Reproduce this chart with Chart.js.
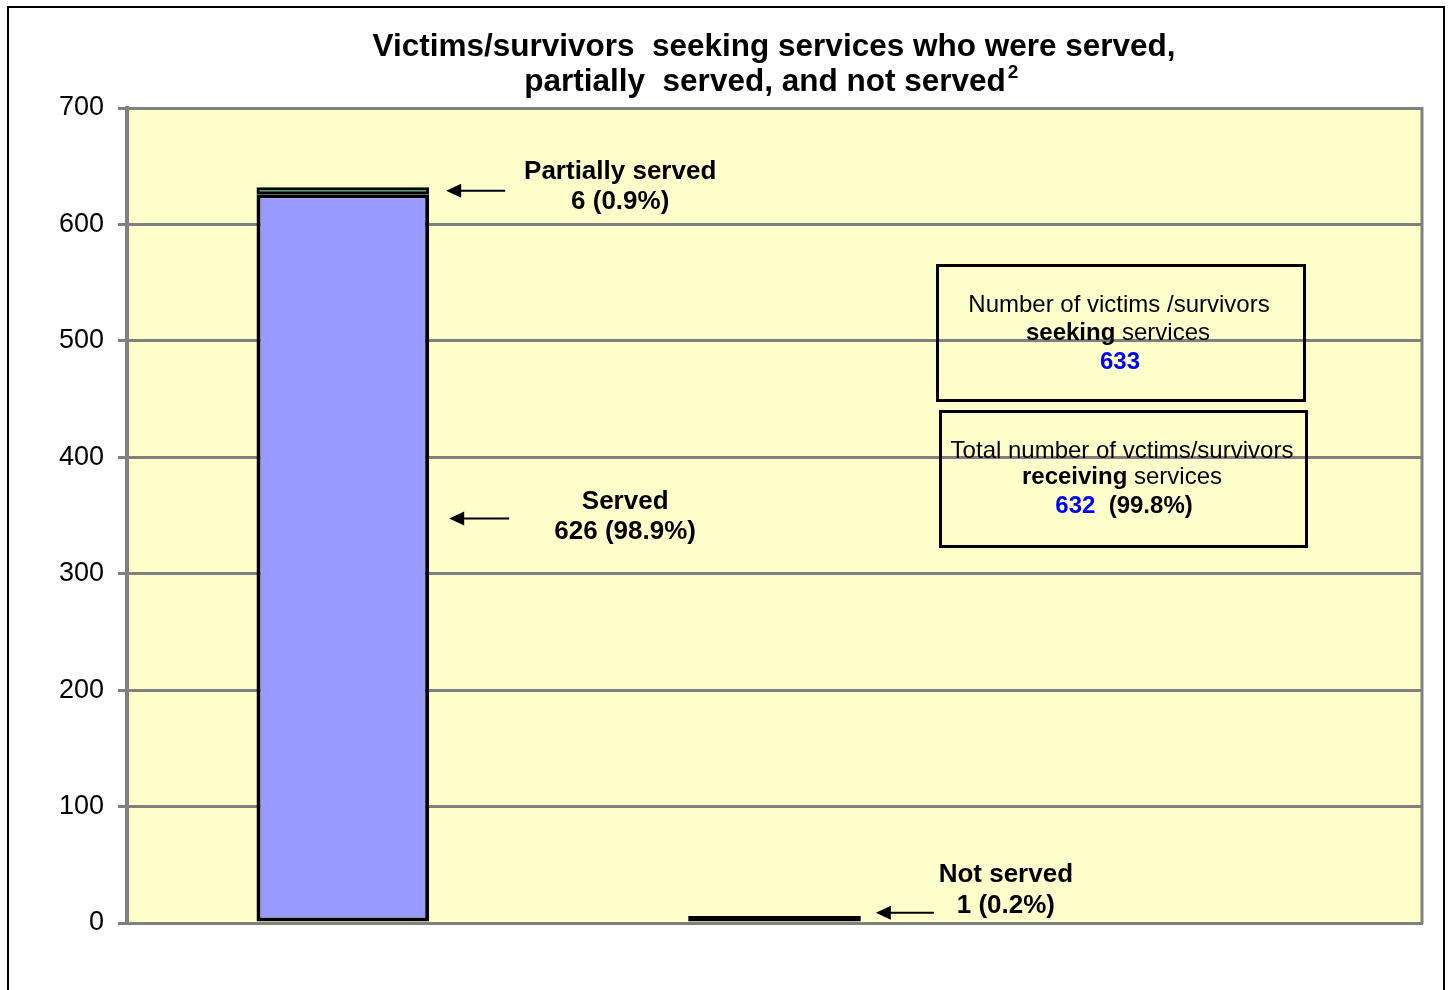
<!DOCTYPE html>
<html lang="en">
<head>
  <meta charset="UTF-8">
  <title>Victims/survivors seeking services</title>
  <script src="https://cdn.jsdelivr.net/npm/chart.js"></script>
  <style>
    html, body { margin: 0; padding: 0; background: #fff; }
    #wrap { position: relative; width: 1449px; height: 990px; }
  </style>
</head>
<body>
<div id="wrap">
  <canvas id="servedChart" width="1449" height="990"></canvas>
</div>
<script>
  // chart data
  const categories = ['', '', ''];
  const served = [626, null, null];
  const partiallyServed = [6, null, null];
  const notServed = [null, 1, null];
  const yTicks = [0, 100, 200, 300, 400, 500, 600, 700];

  const FONT = '"Liberation Sans", Arial, sans-serif';
  const total = [served, partiallyServed, notServed]
    .map(a => a.reduce((s, v) => s + (v || 0), 0))
    .reduce((s, v) => s + v, 0);
  const receiving = served[0] + partiallyServed[0];
  const pct = v => (v / total * 100).toFixed(1) + '%';

  function arrow(ctx, xTip, xTail, y) {
    ctx.save();
    ctx.strokeStyle = '#000';
    ctx.fillStyle = '#000';
    ctx.lineWidth = 2;
    ctx.beginPath();
    ctx.moveTo(xTail, y);
    ctx.lineTo(xTip + 10, y);
    ctx.stroke();
    ctx.beginPath();
    ctx.moveTo(xTip, y);
    ctx.lineTo(xTip + 15, y - 7);
    ctx.lineTo(xTip + 15, y + 7);
    ctx.closePath();
    ctx.fill();
    ctx.restore();
  }

  // draws a centred line made of [text, bold, colour] parts
  function mixedLine(ctx, parts, cx, y, size) {
    let widths = parts.map(p => {
      ctx.font = (p[1] ? 'bold ' : '') + size + 'px ' + FONT;
      return ctx.measureText(p[0]).width;
    });
    let w = widths.reduce((a, b) => a + b, 0);
    let x = cx - w / 2;
    ctx.textAlign = 'left';
    ctx.textBaseline = 'middle';
    parts.forEach((p, i) => {
      ctx.font = (p[1] ? 'bold ' : '') + size + 'px ' + FONT;
      ctx.fillStyle = p[2] || '#000';
      ctx.fillText(p[0], x, y);
      x += widths[i];
    });
  }

  const decor = {
    id: 'decor',
    beforeDraw(chart) {
      const { ctx, chartArea: a } = chart;
      ctx.save();
      ctx.fillStyle = '#fff';
      ctx.fillRect(0, 0, chart.width, chart.height);
      ctx.strokeStyle = '#000';
      ctx.lineWidth = 2;
      ctx.strokeRect(8, 7, 1436, 1000);
      ctx.fillStyle = '#FFFFCC';
      ctx.fillRect(a.left, a.top, a.right - a.left, a.bottom - a.top);
      ctx.restore();
    },
    afterDraw(chart) {
      const { ctx, chartArea: a, scales } = chart;
      const x = scales.x, y = scales.y;
      ctx.save();
      // right border of plot
      ctx.strokeStyle = '#808080';
      ctx.lineWidth = 3;
      ctx.beginPath();
      ctx.moveTo(a.right, a.top - 1);
      ctx.lineTo(a.right, a.bottom + 1);
      ctx.stroke();

      // title
      ctx.fillStyle = '#000';
      ctx.textAlign = 'center';
      ctx.textBaseline = 'middle';
      ctx.font = 'bold 31.5px ' + FONT;
      ctx.fillText('Victims/survivors  seeking services who were served,', 774, 47);
      const t2 = 'partially  served, and not served';
      const w2 = ctx.measureText(t2).width;
      ctx.fillText(t2, 765, 82);
      ctx.textAlign = 'left';
      ctx.font = 'bold 19px ' + FONT;
      ctx.fillText('2', 765 + w2 / 2 + 2, 73);

      // bar annotations
      const half = (x.getPixelForValue(1) - x.getPixelForValue(0)) * 0.2;
      const r0 = x.getPixelForValue(0) + half;
      const r1 = x.getPixelForValue(1) + half;
      ctx.textAlign = 'center';
      ctx.font = 'bold 26px ' + FONT;
      ctx.fillStyle = '#000';

      const yp = y.getPixelForValue(served[0] + partiallyServed[0] / 2);
      arrow(ctx, r0 + 17, r0 + 76, yp);
      ctx.fillText('Partially served', r0 + 191, yp - 19);
      ctx.fillText(partiallyServed[0] + ' (' + pct(partiallyServed[0]) + ')', r0 + 191, yp + 11);

      const ys = y.getPixelForValue(served[0] * 0.555);
      arrow(ctx, r0 + 20, r0 + 80, ys);
      ctx.fillText('Served', r0 + 196, ys - 17);
      ctx.fillText(served[0] + ' (' + pct(served[0]) + ')', r0 + 196, ys + 13);

      const yn = y.getPixelForValue(notServed[1]) - 9;
      arrow(ctx, r1 + 15, r1 + 73, yn);
      ctx.fillText('Not served', r1 + 145, yn - 38);
      ctx.fillText(notServed[1] + ' (' + pct(notServed[1]) + ')', r1 + 145, yn - 7);

      // boxes
      ctx.strokeStyle = '#000';
      ctx.lineWidth = 3;
      ctx.strokeRect(937.5, 265.5, 367, 135);
      ctx.strokeRect(940.5, 411.5, 366, 135);
      mixedLine(ctx, [['Number of victims /survivors', false]], 1119, 305, 24);
      mixedLine(ctx, [['seeking', true], [' services', false]], 1118, 333, 24);
      mixedLine(ctx, [[String(total), true, '#0000FF']], 1120, 362, 24);
      mixedLine(ctx, [['Total number of vctims/survivors', false]], 1122, 451, 24);
      mixedLine(ctx, [['receiving', true], [' services', false]], 1122, 477, 24);
      mixedLine(ctx, [[String(receiving), true, '#0000FF'], ['  (' + pct(receiving) + ')', true]], 1124, 506, 24);
      ctx.restore();
    }
  };

  new Chart(document.getElementById('servedChart'), {
    type: 'bar',
    data: {
      labels: categories,
      datasets: [
        { label: 'Served', data: served, backgroundColor: '#9999FF', borderWidth: 4 },
        { label: 'Partially served', data: partiallyServed, backgroundColor: '#339966', borderWidth: 3 },
        { label: 'Not served', data: notServed, backgroundColor: '#000000', borderWidth: 3, minBarLength: 7 }
      ].map(d => Object.assign(d, {
        borderColor: '#000', borderSkipped: false,
        categoryPercentage: 1, barPercentage: 0.4
      }))
    },
    options: {
      responsive: false,
      animation: false,
      layout: { padding: { left: 0, top: 108, right: 27, bottom: 67 } },
      plugins: { legend: { display: false }, tooltip: { enabled: false }, title: { display: false } },
      scales: {
        x: {
          stacked: true,
          afterFit: s => { s.height = 0; },
          ticks: { display: false },
          grid: { display: false },
          border: { display: true, color: '#808080', width: 3 }
        },
        y: {
          stacked: true,
          min: 0,
          max: yTicks[yTicks.length - 1],
          afterFit: s => { s.width = 127; },
          afterBuildTicks: s => { s.ticks = yTicks.map(v => ({ value: v })); },
          ticks: { color: '#000', padding: 14, font: { family: FONT, size: 27 } },
          grid: { color: '#808080', lineWidth: 3, tickLength: 9, tickColor: '#808080', tickWidth: 3 },
          border: { display: true, color: '#808080', width: 4 }
        }
      }
    },
    plugins: [decor]
  });
</script>
</body>
</html>
